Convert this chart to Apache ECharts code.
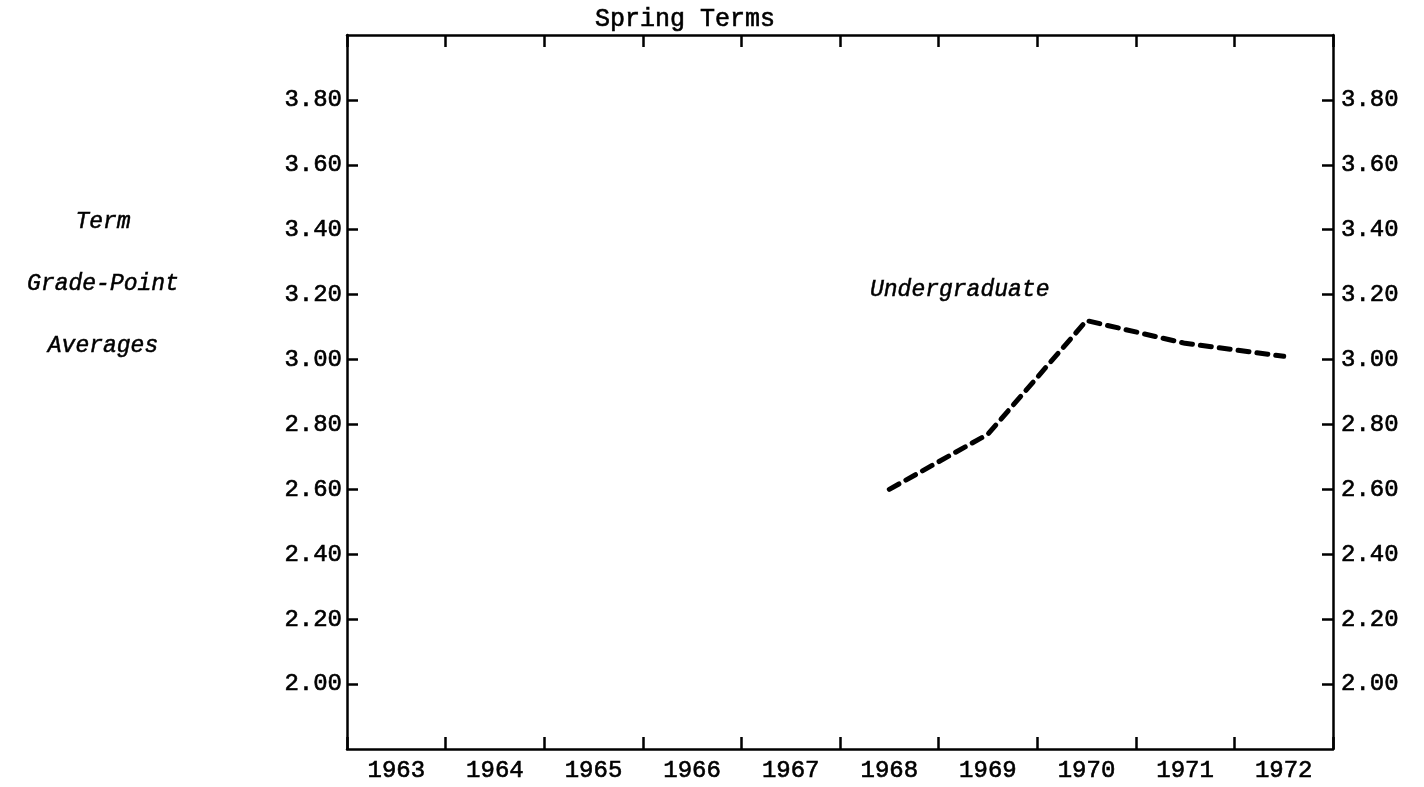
<!DOCTYPE html>
<html lang="en">
<head>
  <meta charset="UTF-8">
  <title>Spring Terms</title>
  <script src="https://cdn.jsdelivr.net/npm/echarts@6/dist/echarts.min.js"></script>
  <style>
    html, body { margin: 0; padding: 0; background: #fff; }
    #chart { width: 1424px; height: 787px; }
  </style>
</head>
<body>
<div id="chart"></div>
<script>
  // 年份（春季学期）
  const years = ['1963', '1964', '1965', '1966', '1967', '1968', '1969', '1970', '1971', '1972'];
  // 本科生学期平均绩点，1968 年以前没有数据
  const undergradGpa = [null, null, null, null, null, 2.60, 2.77, 3.12, 3.05, 3.01];
  // 坐标轴上显示刻度标签的范围
  const yLabelRange = [2.00, 3.80];
  const yAxisRange = [1.80, 4.00];
  const leftLabels = ['Term', 'Grade-Point', 'Averages'];

  const mono = '"Liberation Mono", "DejaVu Sans Mono", monospace';
  // 打字机字体稍微加粗一点
  const ink = { textBorderColor: '#000', textBorderWidth: 0.6 };

  const chart = echarts.init(document.getElementById('chart'));

  function yLabel(v) {
    if (v < yLabelRange[0] - 1e-6 || v > yLabelRange[1] + 1e-6) return '';
    return v.toFixed(2);
  }

  const axisLine = { show: true, onZero: false, lineStyle: { color: '#000', width: 2.5 } };

  function valueAxis(pos, margin) {
    return {
      type: 'value',
      position: pos,
      min: yAxisRange[0],
      max: yAxisRange[1],
      interval: 0.2,
      axisLine: axisLine,
      axisTick: { show: true, inside: true, length: 11, lineStyle: { color: '#000', width: 2.5 } },
      axisLabel: Object.assign({
        color: '#000', fontSize: 24, fontFamily: mono, margin: margin,
        showMinLabel: false, showMaxLabel: false, formatter: yLabel
      }, ink),
      splitLine: { show: false }
    };
  }

  function categoryAxis(pos, labels) {
    return {
      type: 'category',
      position: pos,
      data: years,
      boundaryGap: true,
      axisLine: axisLine,
      axisTick: { show: true, inside: true, interval: 0, length: 12, lineStyle: { color: '#000', width: 2.5 } },
      axisLabel: Object.assign({ show: labels, interval: 0, color: '#000', fontSize: 24, fontFamily: mono, margin: 10 }, ink),
      splitLine: { show: false }
    };
  }

  const option = {
    animation: false,
    backgroundColor: '#fff',
    textStyle: { fontFamily: mono, color: '#000' },
    title: {
      text: 'Spring Terms',
      left: 590,
      top: 2,
      textStyle: Object.assign({ fontFamily: mono, fontSize: 25, fontWeight: 'normal', color: '#000' }, ink)
    },
    grid: { left: 347, right: 91, top: 35, bottom: 38, containLabel: false },
    xAxis: [categoryAxis('bottom', true), categoryAxis('top', false)],
    yAxis: [valueAxis('left', 5), valueAxis('right', 8)],
    series: [
      {
        name: 'Undergraduate',
        type: 'line',
        data: undergradGpa,
        xAxisIndex: 0,
        yAxisIndex: 0,
        symbol: 'none',
        lineStyle: { color: '#000', width: 5, type: [11, 8], cap: 'round' }
      }
    ],
    graphic: leftLabels.map((t, i) => ({
      type: 'text',
      x: 103,
      y: [222, 284, 346][i],
      style: {
        text: t, fill: '#000', font: 'italic 23px ' + mono,
        textAlign: 'center', textVerticalAlign: 'middle',
        stroke: '#000', lineWidth: 0.5
      }
    })).concat([{
      type: 'text',
      x: 870,
      y: 290,
      style: {
        text: 'Undergraduate', fill: '#000', font: 'italic 23px ' + mono,
        textAlign: 'left', textVerticalAlign: 'middle',
        stroke: '#000', lineWidth: 0.5
      }
    }])
  };

  chart.setOption(option);
</script>
</body>
</html>
